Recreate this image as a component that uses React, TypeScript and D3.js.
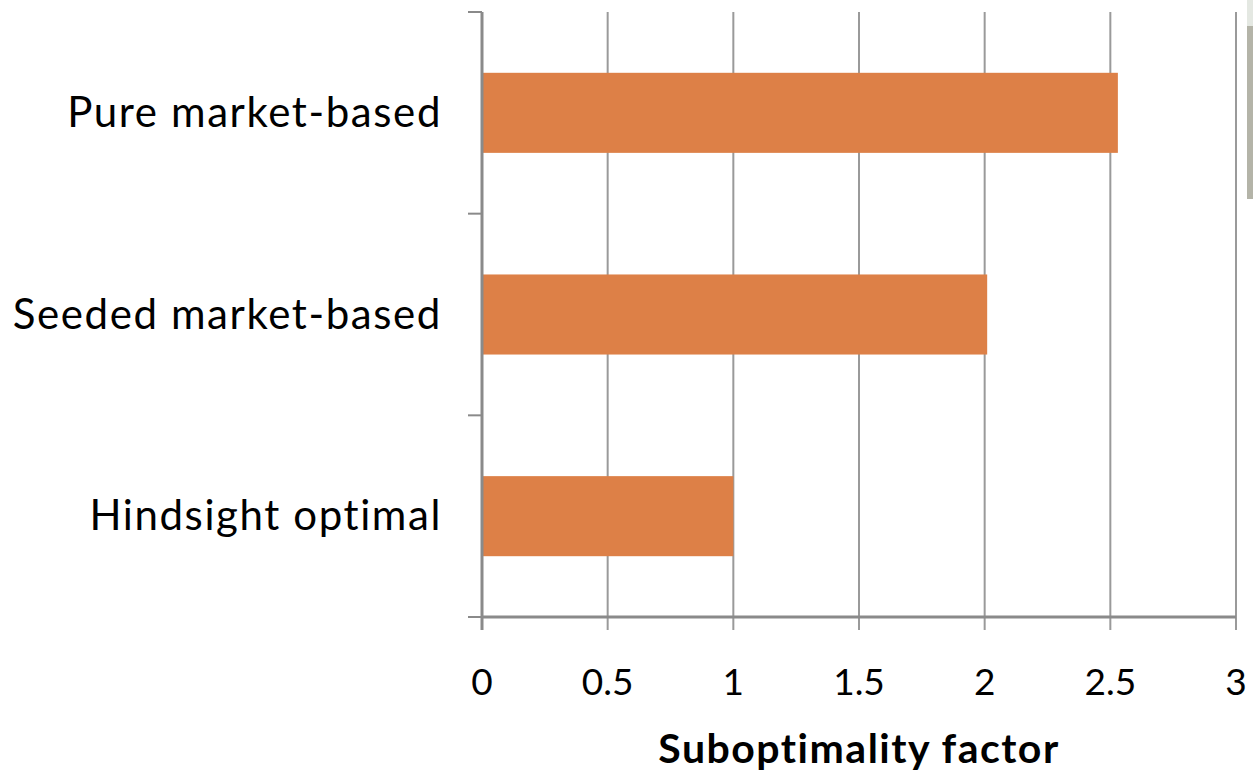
import React from "react";
import * as d3 from "d3";

const categories = ["Pure market-based", "Seeded market-based", "Hindsight optimal"];
const values = [2.53, 2.01, 1.0];
const xTicks = [0, 0.5, 1, 1.5, 2, 2.5, 3];
const xTickLabels = ["0", "0.5", "1", "1.5", "2", "2.5", "3"];
const axisTitle = "Suboptimality factor";

const W = 1253;
const H = 781;
const FONT = "Lato, 'Open Sans', sans-serif";

export default function App() {
  const x = d3.scaleLinear().domain([0, 3]).range([482, 1236]);
  const y = d3
    .scaleBand<string>()
    .domain(categories)
    .range([12, 617])
    .paddingInner(0.603)
    .paddingOuter(0.3015);
  const step = y.step();
  const bandEdges = d3.range(categories.length + 1).map((i) => 12 + i * step);
  const y0 = 617;
  const y1 = 12;

  return (
    <svg
      width={W}
      height={H}
      style={{ position: "absolute", left: 0, top: 0, background: "#fff" }}
    >
      {/* vertical gridlines */}
      {xTicks.map((t) =>
        t === 0 ? null : (
          <line
            key={`g${t}`}
            x1={x(t)}
            x2={x(t)}
            y1={y1}
            y2={y0 + 13}
            stroke="#9a9a9a"
            strokeWidth={2}
          />
        )
      )}
      {/* bars */}
      {categories.map((c, i) => (
        <rect
          key={c}
          x={x(0)}
          y={y(c)!}
          width={x(values[i]) - x(0)}
          height={y.bandwidth()}
          fill="#DD8047"
        />
      ))}
      {/* category axis */}
      <line x1={x(0)} x2={x(0)} y1={y1} y2={y0 + 13} stroke="#8a8a8a" strokeWidth={3} />
      {bandEdges.map((e, i) => (
        <line key={`yt${i}`} x1={468} x2={x(0)} y1={e} y2={e} stroke="#8a8a8a" strokeWidth={2} />
      ))}
      {/* value axis baseline */}
      <line x1={x(0)} x2={x(3)} y1={y0} y2={y0} stroke="#8a8a8a" strokeWidth={3} />
      {categories.map((c) => (
        <text
          key={`l${c}`}
          x={442}
          y={y(c)! + y.bandwidth() / 2 + 14}
          textAnchor="end"
          fontFamily={FONT}
          fontSize={42}
          letterSpacing={1.6}
          fill="#000"
        >
          {c}
        </text>
      ))}
      {xTicks.map((t, i) => (
        <text
          key={`xl${t}`}
          x={x(t)}
          y={695}
          textAnchor="middle"
          fontFamily={FONT}
          fontSize={37}
          fill="#000"
        >
          {xTickLabels[i]}
        </text>
      ))}
      <text
        x={859}
        y={763}
        textAnchor="middle"
        fontFamily={FONT}
        fontSize={41}
        fontWeight="bold"
        letterSpacing={1.5}
        fill="#000"
      >
        {axisTitle}
      </text>
      {/* narrow grey strip on the right edge */}
      <rect x={1247} y={0} width={6} height={26} fill="#e4e8e2" />
      <rect x={1247} y={26} width={6} height={173} fill="#b4b4a8" />
    </svg>
  );
}
